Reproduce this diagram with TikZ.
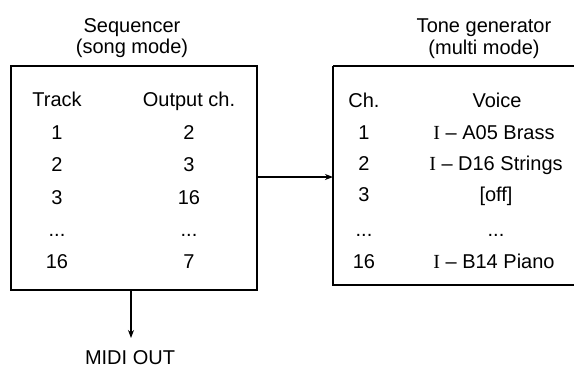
\documentclass[tikz,border=0pt]{standalone}
\usepackage{fontspec}
\setmainfont{Liberation Sans}
\newfontfamily\serifI{Liberation Serif}
\usetikzlibrary{arrows.meta}
\begin{document}
\begin{tikzpicture}[x=1pt,y=-1pt,
  txt/.style={inner sep=0pt,anchor=base,font=\fontsize{20}{22}\selectfont},
  box/.style={draw,line width=1.4pt},
  conn/.style={line width=1.2pt,-{Stealth[length=8pt,width=6pt,inset=2.5pt]}}]
\useasboundingbox (0,0) rectangle (574,368);
\begin{scope}
\clip (0,0) rectangle (574,368);
% boxes
\draw[box] (11,66) rectangle (257,290);
\coordinate (seqR) at (257,177);
\coordinate (seqB) at (131,290);
\draw[box] (333,66) -- (585,66) (333,66) -- (333,285) -- (585,285);
\coordinate (tgL) at (333,177);
\end{scope}
% titles
\node[txt] (t1) at (132,32) {Sequencer};
\node[txt] (t2) at (132,53) {(song mode)};
\node[txt] (t3) at (484,32) {Tone generator};
\node[txt] (t4) at (484,54) {(multi mode)};
% left table
\node[txt] (h1) at (57,106) {Track};
\node[txt] (h2) at (189,106) {Output ch.};
\node[txt] (a1) at (57,139) {1};
\node[txt] (b1) at (189,139) {2};
\node[txt] (a2) at (57,171) {2};
\node[txt] (b2) at (189,171) {3};
\node[txt] (a3) at (57,204) {3};
\node[txt] (b3) at (189,204) {16};
\node[txt] (a4) at (57,236) {...};
\node[txt] (b4) at (189,236) {...};
\node[txt] (a5) at (57,268) {16};
\node[txt] (b5) at (189,268) {7};
% right table
\node[txt] (c0) at (364,107) {Ch.};
\node[txt] (v0) at (497,107) {Voice};
\node[txt] (c1) at (364,139) {1};
\node[txt] (v1) at (494,139) {{\serifI I} -- A05 Brass};
\node[txt] (c2) at (364,170) {2};
\node[txt] (v2) at (496,170) {{\serifI I} -- D16 Strings};
\node[txt] (c3) at (364,201) {3};
\node[txt] (v3) at (496,201) {[off]};
\node[txt] (c4) at (364,236) {...};
\node[txt] (v4) at (496,236) {...};
\node[txt] (c5) at (364,268) {16};
\node[txt] (v5) at (494,268) {{\serifI I} -- B14 Piano};
% connectors
\node[txt] (midi) at (130,364) {MIDI OUT};
\coordinate (midiT) at (131,338);
\draw[conn] (seqR) -- (tgL);
\draw[conn] (seqB) -- (midiT);
\end{tikzpicture}
\end{document}
